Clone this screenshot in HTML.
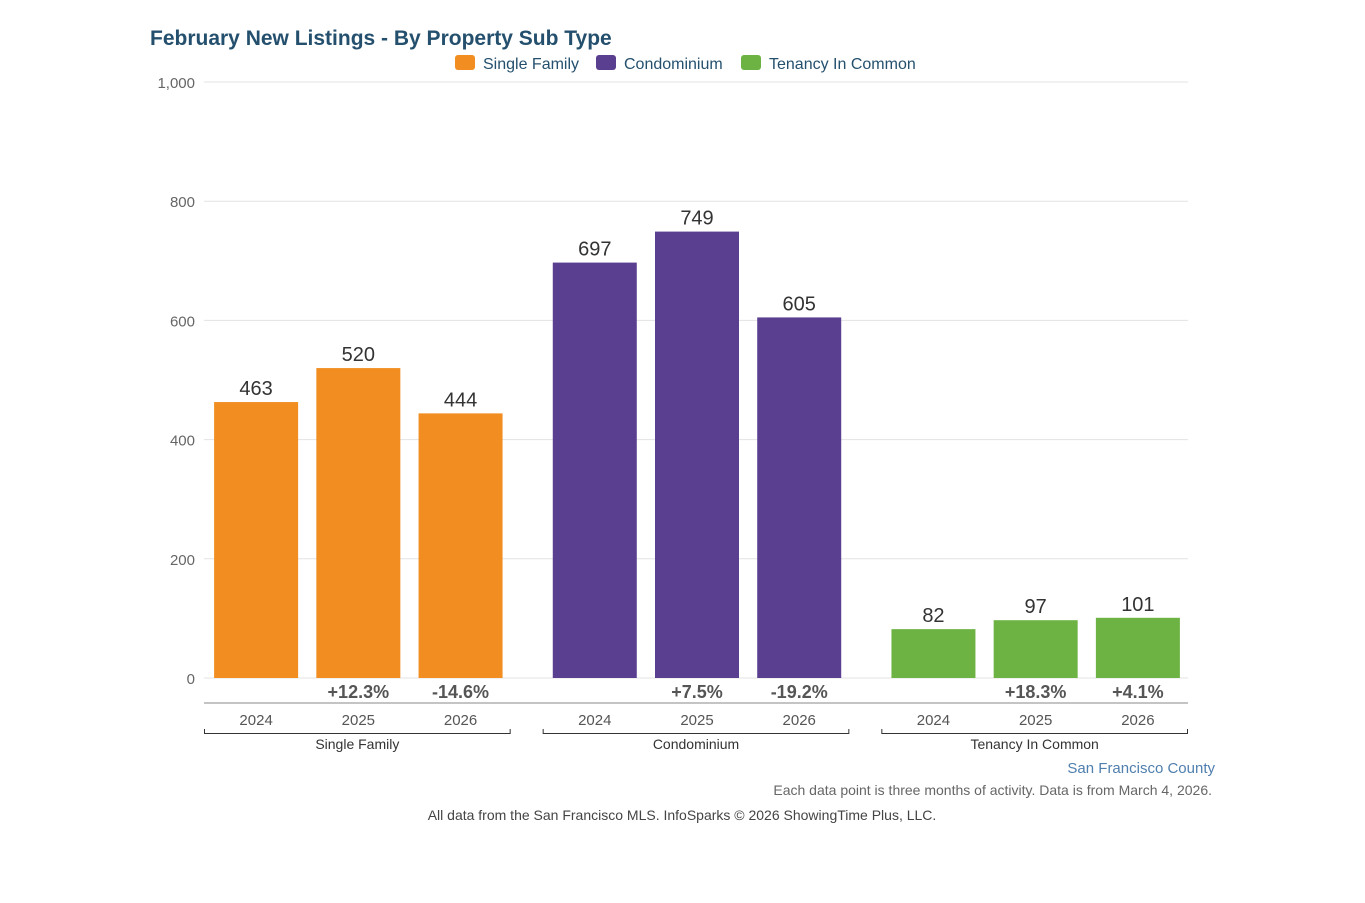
<!DOCTYPE html>
<html><head><meta charset="utf-8"><style>
body{margin:0;background:#fff;width:1365px;height:898px;overflow:hidden;font-family:"Liberation Sans",sans-serif}
</style></head><body>
<svg id="chart" width="1365" height="898" xmlns="http://www.w3.org/2000/svg" font-family="Liberation Sans, sans-serif">
<text x="150" y="45" font-size="21" font-weight="bold" fill="#24506e">February New Listings - By Property Sub Type</text>
<g id="legend"></g>
<g id="grid"></g>
<g id="bars"></g>
<g id="xaxis"></g>
<text x="1215" y="773" font-size="15" fill="#4f7fae" text-anchor="end">San Francisco County</text>
<text x="1212" y="795" font-size="14" fill="#666" text-anchor="end">Each data point is three months of activity. Data is from March 4, 2026.</text>
<text x="682" y="820" font-size="14" fill="#444" text-anchor="middle">All data from the San Francisco MLS. InfoSparks © 2026 ShowingTime Plus, LLC.</text>
</svg>
<script>
const groups=["Single Family","Condominium","Tenancy In Common"];
const years=["2024","2025","2026"];
const colors=["#f18d21","#5a3e8f","#6db344"];
const values=[[463,520,444],[697,749,605],[82,97,101]];
const pctLabels=[["","+12.3%","-14.6%"],["","+7.5%","-19.2%"],["","+18.3%","+4.1%"]];
const yTicks=[0,200,400,600,800,1000];
const NS="http://www.w3.org/2000/svg";
function mk(t,a,p,txt){const e=document.createElementNS(NS,t);for(const k in a)e.setAttribute(k,a[k]);if(txt!==undefined)e.textContent=txt;p.appendChild(e);return e;}
const x0=204,x1=1188,yBase=678,yTop=82,yMax=1000;
const y=v=>yBase-(v/yMax)*(yBase-yTop);
const gGap=32,gW=(x1-x0-2*gGap)/3,band=gW/3,bw=84;
const grid=document.getElementById('grid');
yTicks.forEach(t=>{
 const l=mk('line',{x1:x0,x2:x1,y1:y(t),y2:y(t),stroke:'#e3e3e3','stroke-width':1},grid);
 
 
 const tx=mk('text',{x:195,y:y(t)+6,'font-size':15,fill:'#666','text-anchor':'end'},grid,t.toLocaleString('en-US'));
 
 
});
const bars=document.getElementById('bars'),xa=document.getElementById('xaxis');
const al=mk('line',{x1:x0,x2:x1,y1:703,y2:703,stroke:'#888','stroke-width':1},xa);


groups.forEach((g,gi)=>{
 const gx=x0+gi*(gW+gGap);
 values[gi].forEach((v,i)=>{
  const cx=gx+band*i+band/2+1;
  const r=mk('rect',{x:cx-bw/2,y:y(v),width:bw,height:yBase-y(v),fill:colors[gi]},bars);
  
  
  const vt=mk('text',{x:cx,y:y(v)-7,'font-size':20,fill:'#333','text-anchor':'middle'},bars,v);
  
  
  if(pctLabels[gi][i]){const p=mk('text',{x:cx,y:698,'font-size':18,'font-weight':'bold',fill:'#555','text-anchor':'middle'},bars,pctLabels[gi][i]);
  
  }
  const yl=mk('text',{x:cx,y:725,'font-size':15,fill:'#555','text-anchor':'middle'},xa,years[i]);
  
  
 });
 const br=mk('path',{d:`M${gx+0.5} 729V733.5H${gx+gW-0.5}V729`,fill:'none',stroke:'#333','stroke-width':1},xa);
 
 
 const gl=mk('text',{x:gx+gW/2,y:749,'font-size':14,fill:'#333','text-anchor':'middle'},xa,g);
 
 
});
const lg=document.getElementById('legend');
const lx=[455,596,741];
groups.forEach((g,i)=>{
 const s=mk('rect',{x:lx[i],y:55,width:20,height:15,rx:3,fill:colors[i]},lg);
 
 
 const t=mk('text',{x:lx[i]+28,y:69,'font-size':16,fill:'#24506e'},lg,g);
 
 
});
</script>
</body></html>
